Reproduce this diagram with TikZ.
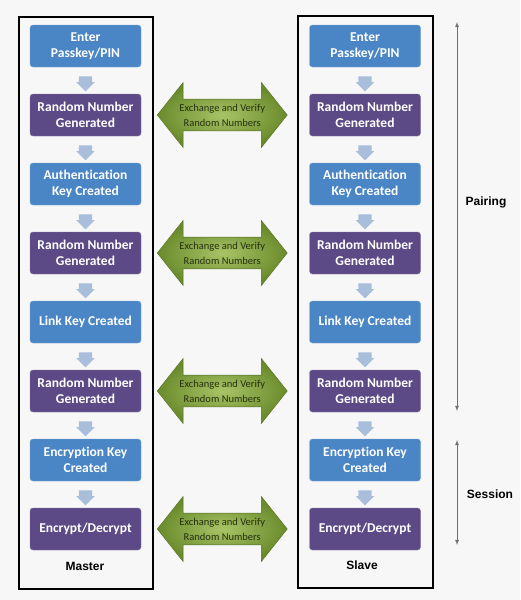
\documentclass[tikz,border=0pt]{standalone}
\usepackage{fontspec}
\setmainfont{Carlito}[Ligatures=CommonOff]
\newfontfamily\labelfont{Liberation Sans}
\usetikzlibrary{shapes.arrows,calc}
\definecolor{keyblue}{HTML}{4A86C6}
\definecolor{keypurple}{HTML}{5C4A87}
\definecolor{flowgray}{HTML}{A9BEDB}
\definecolor{exlight}{HTML}{A8C466}
\definecolor{exdark}{HTML}{6A8B2C}
\definecolor{extext}{HTML}{25300E}
\definecolor{bggray}{HTML}{F7F7F7}
\definecolor{spangray}{HTML}{707070}
\tikzset{
  keybox/.style={rounded corners=3pt, minimum width=111pt, minimum height=42pt,
    inner sep=2pt, align=center, text=white,
    font=\fontsize{13.5}{16}\selectfont\bfseries},
  bluebox/.style={keybox, fill=keyblue, draw=keyblue!75!white},
  purplebox/.style={keybox, fill=keypurple, draw=keypurple!75!white},
  downarrow/.style={single arrow, rotate=-90, fill=flowgray, minimum height=15pt,
    minimum width=18pt, single arrow head extend=2.5pt, inner xsep=0pt, inner ysep=6.5pt},
  exchange/.style={double arrow, double arrow head extend=16pt, double arrow tip angle=103,
    minimum height=130pt, minimum width=65pt, inner xsep=0pt, inner ysep=4pt,
    draw=exdark!80!black, inner color=exlight, outer color=exdark, text=extext,
    align=center, font=\fontsize{10.5}{15}\selectfont},
  sidelabel/.style={font=\labelfont\fontsize{12}{14}\selectfont\bfseries},
}
\begin{document}
\begin{tikzpicture}[>=latex, x=1pt, y=-1pt]
    \useasboundingbox (0,0) rectangle (520,600);
    \fill[bggray] (0,0) rectangle (520,600);
    % master and slave frames
    \draw[line width=2pt](19,17) rectangle (153,589);
    \draw[line width=2pt](298,16) rectangle (433,588);
    % steps, both sides
    \foreach \i/\sty/\txt in {1/bluebox/{Enter\\Passkey/PIN},
        2/purplebox/{Random Number\\Generated},
        3/bluebox/{Authentication\\Key Created},
        4/purplebox/{Random Number\\Generated},
        5/bluebox/{Link Key Created},
        6/purplebox/{Random Number\\Generated},
        7/bluebox/{Encryption Key\\Created},
        8/purplebox/{Encrypt/Decrypt}}{
      \pgfmathsetmacro\yrow{46+69*(\i-1)}
      \node[\sty] (m\i) at (85.5,\yrow) {\txt};
      \node[\sty] (s\i) at (365,\yrow) {\txt};
    }
    \foreach \a/\b in {1/2,2/3,3/4,4/5,5/6,6/7,7/8}{
      \node[downarrow] (dm\a) at ($(m\a.south)!.5!(m\b.north)$) {};
      \node[downarrow] (ds\a) at ($(s\a.south)!.5!(s\b.north)$) {};
    }
    % exchanges between the random numbers
    \foreach \i in {2,4,6,8}
      \node[exchange] (x\i) at ($(m\i.east)!.5!(s\i.west)+(-3,0)$) {Exchange and Verify\\Random Numbers};
    \node[sidelabel] (master) at (85,566) {Master};
    \node[sidelabel] (slave) at (362,565) {Slave};
    % pairing and session spans
    \coordinate (p1) at (457,22);\coordinate (p2) at (457,411);
    \coordinate (q1) at (457,440);\coordinate (q2) at (457,545);
    \draw[<->, spangray, thick](p1)--(p2);
    \draw[<->, spangray, thick](q1)--(q2);
    \node[sidelabel] (pairing) at (486,202) {Pairing};
    \node[sidelabel] (session) at (490,494) {Session};
\end{tikzpicture}
\end{document}
